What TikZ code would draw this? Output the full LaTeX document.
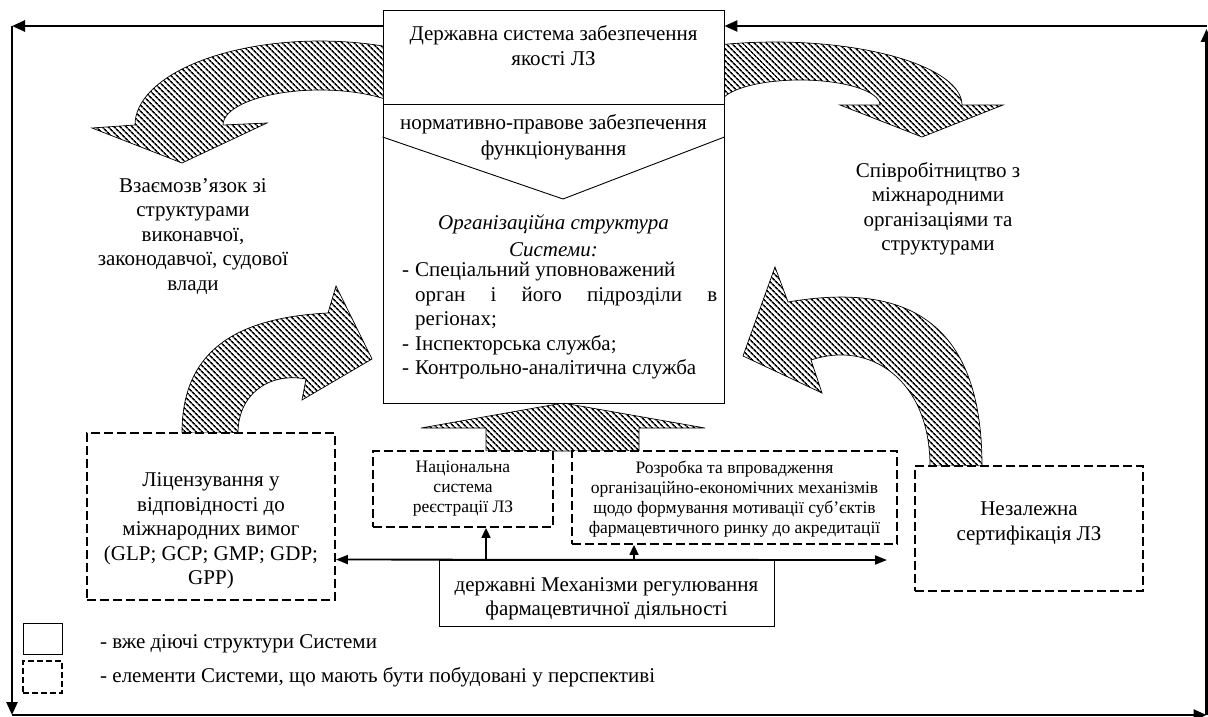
\documentclass[tikz,border=0pt]{standalone}
\usepackage{fontspec}
\setmainfont{Liberation Serif}
\usetikzlibrary{arrows.meta,patterns.meta}
\newcommand{\fsmain}{\fontsize{21}{24.5}\selectfont}
\newcommand{\fsital}{\fontsize{21}{27}\selectfont\itshape}
\newcommand{\fssmall}{\fontsize{17.5}{20}\selectfont}
\begin{document}
\begin{tikzpicture}[x=1pt,y=-1pt,
  txt/.style={font=\fsmain, align=center, inner sep=0pt},
  smalltxt/.style={font=\fssmall, align=center, inner sep=0pt},
  linetxt/.style={font=\fsmain, anchor=west, inner sep=0pt, text height=15pt, text depth=5pt},
  solidbox/.style={draw, line width=0.9pt, fill=white, inner sep=0pt},
  dashbox/.style={draw, line width=1.8pt, dash pattern=on 9pt off 4pt, fill=white, inner sep=0pt},
  hatch/.style={draw, line width=0.7pt, pattern={Lines[angle=-45,distance=4pt,line width=1.7pt]}},
  frameline/.style={line width=2.5pt, -{Triangle[length=13pt,width=11pt]}},
  dblarrow/.style={line width=1.8pt, {Triangle[length=12pt,width=9pt]}-{Triangle[length=12pt,width=9pt]}},
  uparrow/.style={line width=1.6pt, -{Triangle[length=10pt,width=9pt]}},
]
\useasboundingbox (0,0) rectangle (1208,717);
\fill[white] (0,0) rectangle (1208,717);

% ---- hatched curved arrows (drawn first, boxes cover their tails)
\draw[hatch] (92,128) -- (135,125)
  -- plot[domain=180:360, samples=60] ({320+185*cos(\x)},{125+84*sin(\x)})
  -- plot[domain=360:180, samples=40] ({320+97*cos(\x)},{125+35*sin(\x)})
  -- (267,123) -- (182,163) -- cycle;
\draw[hatch] plot[domain=180:360, samples=60] ({775+187*cos(\x)},{105+63*sin(\x)})
  -- (1003,105) -- (922,137) -- (840,105)
  -- plot[domain=360:180, samples=40] ({800+80*cos(\x)},{105+25*sin(\x)}) -- cycle;
\draw[hatch] (182,433) .. controls (182,355) and (230,318) .. (328,313)
  -- (336,286) -- (372,359) -- (302,400) -- (306,379)
  .. controls (268,372) and (238,395) .. (238,433) -- cycle;
\draw[hatch] (982,466) .. controls (982,320) and (905,282) .. (788,302)
  -- (775,267) -- (743,356) -- (822,393) -- (811,360)
  .. controls (870,340) and (930,380) .. (930,466) -- cycle;
\draw[hatch] (486,451) -- (486,428) -- (421,428) -- (563,403) -- (705,428)
  -- (639,428) -- (639,451) -- cycle;

% ---- main box
\node[solidbox, minimum width=341pt, minimum height=393pt] (main) at (553.5,206.5) {};
\coordinate (dv) at (553,104);
\coordinate (chy) at (553,137);
\coordinate (chv) at (563,199);
\draw[line width=0.9pt] (main.west |- dv) -- (main.east |- dv);
\draw[line width=0.9pt] (main.west |- chy) -- (chv) -- (main.east |- chy);
\node[txt] (t1) at (553.5,45.5) {Державна система забезпечення\\якості ЛЗ};
\node[txt, font=\fontsize{21}{26.5}\selectfont] (t2) at (553.5,137) {нормативно-правове забезпечення\\функціонування};
\node[txt, font=\fsital] (t3) at (553.5,236) {Організаційна структура\\Системи:};
\node[linetxt] (l1) at (402,271) {\makebox[13pt][l]{-}Спеціальний уповноважений};
\node[linetxt] (l2) at (415,296) {\makebox[302pt][s]{орган і його підрозділи в}};
\node[linetxt] (l3) at (415,320.5) {регіонах;};
\node[linetxt] (l4) at (402,345) {\makebox[13pt][l]{-}Інспекторська служба;};
\node[linetxt] (l5) at (402,369.5) {\makebox[13pt][l]{-}Контрольно-аналітична служба};

% ---- side texts
\node[txt] (lt) at (193,236.5) {Взаємозв’язок зі\\структурами\\виконавчої,\\законодавчої, судової\\влади};
\node[txt] (rt) at (938,208.5) {Співробітництво з\\міжнародними\\організаціями та\\структурами};

% ---- lower boxes
\node[dashbox, minimum width=248pt, minimum height=167pt] (lic) at (211,516.5) {};
\node[txt] (lict) at (211,531) {Ліцензування у\\відповідності до\\міжнародних вимог\\(GLP; GCP; GMP; GDP;\\GPP)};
\node[dashbox, minimum width=180pt, minimum height=76pt] (nat) at (463,489) {};
\node[smalltxt] (natt) at (463,489) {Національна\\система\\реєстрації ЛЗ};
\node[dashbox, minimum width=325pt, minimum height=93pt] (dev) at (734.5,497.5) {};
\node[smalltxt] (devt) at (734.5,499.5) {Розробка та впровадження\\організаційно-економічних механізмів\\щодо формування мотивації суб’єктів\\фармацевтичного ринку до акредитації};
\node[dashbox, minimum width=228pt, minimum height=125pt] (ind) at (1029,528.5) {};
\node[txt] (indt) at (1029,523.5) {Незалежна\\сертифікація ЛЗ};
\node[solidbox, minimum width=335pt, minimum height=66pt] (mech) at (606.5,593) {};
\node[txt] (mecht) at (606.5,599) {державні Механізми регулювання\\фармацевтичної діяльності};

% ---- connectors
\coordinate (hr) at (887,560);
\draw[dblarrow] (lic.east |- mech.north) -- (hr);
\coordinate (a1) at (486,560);
\coordinate (a2) at (634,560);
\draw[uparrow] (a1) -- (a1 |- nat.south);
\draw[uparrow] (a2) -- (a2 |- dev.south);

% ---- outer frame
\coordinate (tl) at (12,26);
\coordinate (bl) at (12,715);
\coordinate (br) at (1206.5,715);
\coordinate (tr) at (1206.5,26);
\coordinate (tr2) at (1206.5,29);
\draw[frameline] (main.west |- tl) -- (tl);
\draw[frameline] (tl) -- (bl);
\draw[frameline] (bl) -- (br);
\draw[frameline] (br) -- (tr2);
\draw[frameline] (tr) -- (main.east |- tr);

% ---- legend
\node[solidbox, minimum width=39pt, minimum height=31pt] (lg1) at (42.5,638.5) {};
\node[dashbox, line width=1.5pt, dash pattern=on 6pt off 3pt, minimum width=39pt, minimum height=32pt] (lg2) at (42.5,677) {};
\node[linetxt] (lgt1) at (100,643) {- вже діючі структури Системи};
\node[linetxt] (lgt2) at (100,677) {- елементи Системи, що мають бути побудовані у перспективі};
\end{tikzpicture}
\end{document}
